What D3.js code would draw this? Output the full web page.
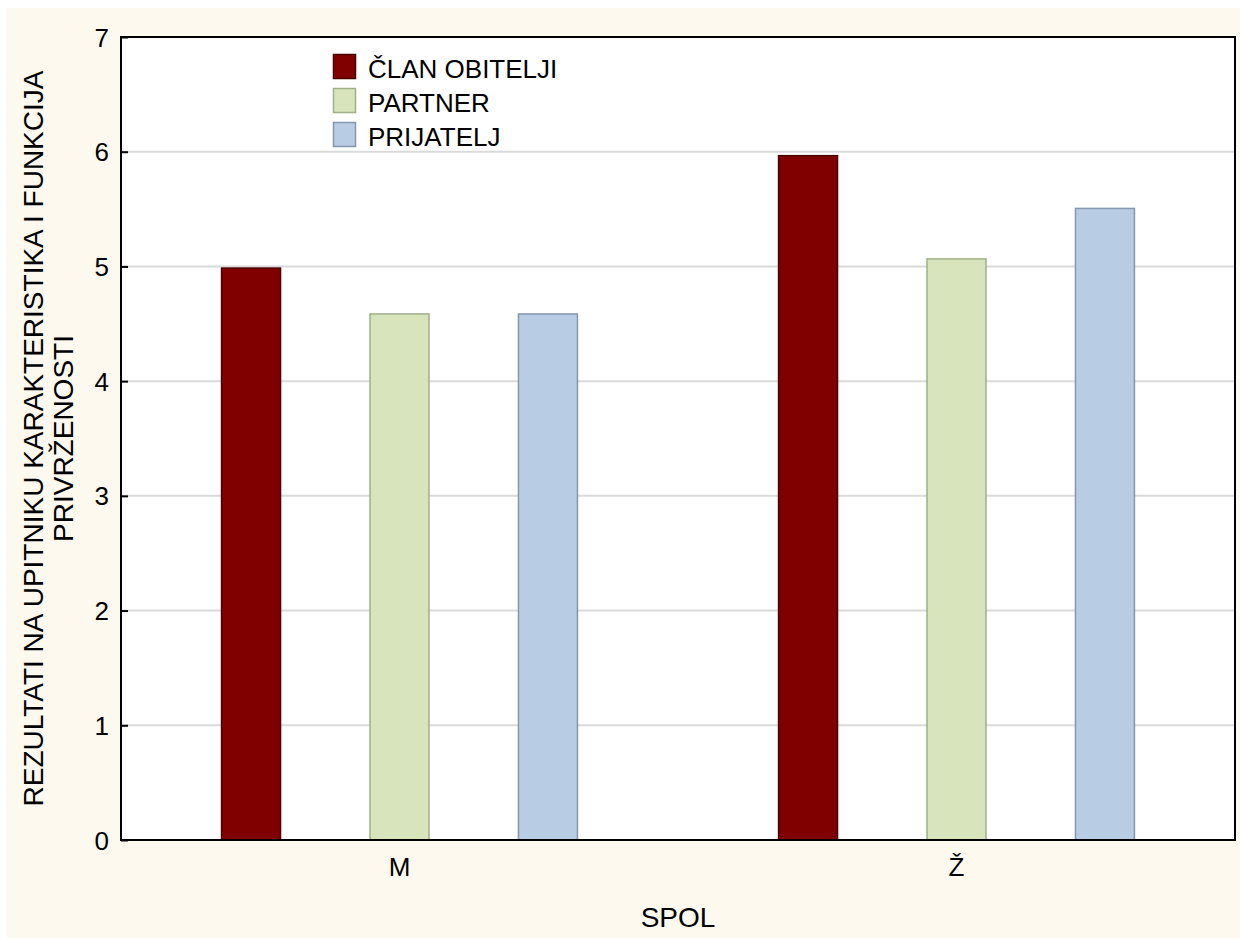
<!DOCTYPE html>
<html>
<head>
<meta charset="utf-8">
<script src="https://cdn.jsdelivr.net/npm/d3@7"></script>
<style>
  html, body { margin: 0; padding: 0; background: #fff; }
  svg { display: block; }
</style>
</head>
<body>
<div id="chart"></div>
<script>
  const groups = ['M', 'Ž'];
  const seriesNames = ['ČLAN OBITELJI', 'PARTNER', 'PRIJATELJ'];
  const clanValues = [4.99, 5.97];
  const partnerValues = [4.59, 5.07];
  const prijateljValues = [4.59, 5.51];
  const yTicks = [0, 1, 2, 3, 4, 5, 6, 7];

  const fills = ['#800000', '#d8e4bc', '#b8cce4'];
  const strokes = ['#4a0000', '#9fb086', '#8497b0'];

  const width = 1240;
  const height = 939;
  const margin = { top: 37, right: 5, bottom: 99, left: 121 };
  const font = '"Liberation Sans", Arial, sans-serif';

  const svg = d3.select('#chart')
    .append('svg')
    .attr('width', width)
    .attr('height', height);

  // cream page background
  svg.append('rect')
    .attr('x', 6)
    .attr('y', 8)
    .attr('width', width - 6)
    .attr('height', height - 9)
    .attr('fill', '#fdf9ef');

  const x0 = d3.scaleBand()
    .domain(groups)
    .range([margin.left, width - margin.right])
    .padding(0);

  const x1 = d3.scaleBand()
    .domain(seriesNames)
    .range([0, x0.bandwidth()])
    .paddingInner(0.596)
    .paddingOuter(0.674);

  const y = d3.scaleLinear()
    .domain([0, 7])
    .range([height - margin.bottom, margin.top]);

  const plotW = width - margin.right - margin.left;
  const plotH = height - margin.bottom - margin.top;

  svg.append('rect')
    .attr('x', margin.left)
    .attr('y', margin.top)
    .attr('width', plotW)
    .attr('height', plotH)
    .attr('fill', '#fff');

  // gridlines
  svg.append('g')
    .selectAll('line')
    .data(yTicks.filter(t => t > 0 && t < 7))
    .join('line')
    .attr('x1', margin.left)
    .attr('x2', width - margin.right)
    .attr('y1', d => y(d))
    .attr('y2', d => y(d))
    .attr('stroke', '#dadada')
    .attr('stroke-width', 2);

  const rows = groups.map((g, i) => ({
    group: g,
    values: [clanValues[i], partnerValues[i], prijateljValues[i]]
  }));

  const barG = svg.append('g');
  rows.forEach(row => {
    row.values.forEach((v, j) => {
      barG.append('rect')
        .attr('x', x0(row.group) + x1(seriesNames[j]) + 0.5)
        .attr('y', y(v) + 0.5)
        .attr('width', x1.bandwidth() - 1)
        .attr('height', y(0) - y(v) - 0.5)
        .attr('fill', fills[j])
        .attr('stroke', strokes[j])
        .attr('stroke-width', 1.5);
    });
  });

  // frame
  svg.append('rect')
    .attr('x', margin.left)
    .attr('y', margin.top)
    .attr('width', plotW)
    .attr('height', plotH)
    .attr('fill', 'none')
    .attr('stroke', '#000')
    .attr('stroke-width', 2);

  // y axis with inward ticks
  const yAxis = d3.axisLeft(y)
    .tickValues(yTicks)
    .tickFormat(d3.format('d'))
    .tickSize(-7);

  const yg = svg.append('g')
    .attr('transform', `translate(${margin.left},0)`)
    .call(yAxis);
  yg.select('.domain').remove();
  yg.selectAll('.tick line').attr('stroke', '#000').attr('stroke-width', 2);
  yg.selectAll('.tick text')
    .attr('x', -12)
    .attr('dy', '0.35em')
    .attr('font-family', font)
    .attr('font-size', 26)
    .attr('fill', '#000');

  const xAxis = d3.axisBottom(x0).tickSize(0);
  const xg = svg.append('g')
    .attr('transform', `translate(0,${height - margin.bottom})`)
    .call(xAxis);
  xg.select('.domain').remove();
  xg.selectAll('.tick text')
    .attr('y', 36)
    .attr('dy', null)
    .attr('font-family', font)
    .attr('font-size', 26)
    .attr('fill', '#000');

  // axis titles
  svg.append('text')
    .attr('x', margin.left + plotW / 2)
    .attr('y', 927)
    .attr('text-anchor', 'middle')
    .attr('font-family', font)
    .attr('font-size', 28)
    .text('SPOL');

  const yTitle = svg.append('text')
    .attr('transform', `translate(0,${margin.top + plotH / 2}) rotate(-90)`)
    .attr('text-anchor', 'middle')
    .attr('font-family', font)
    .attr('font-size', 28);
  yTitle.append('tspan').attr('x', 0).attr('y', 43)
    .text('REZULTATI NA UPITNIKU KARAKTERISTIKA I FUNKCIJA');
  yTitle.append('tspan').attr('x', 0).attr('y', 73)
    .text('PRIVRŽENOSTI');

  // legend
  const legend = svg.append('g').attr('transform', 'translate(333,54)');
  seriesNames.forEach((name, i) => {
    const g = legend.append('g').attr('transform', `translate(0,${i * 34})`);
    g.append('rect')
      .attr('x', 0.5)
      .attr('y', 0.5)
      .attr('width', 22)
      .attr('height', 24)
      .attr('fill', fills[i])
      .attr('stroke', strokes[i])
      .attr('stroke-width', 1.5);
    g.append('text')
      .attr('x', 35)
      .attr('y', 24)
      .attr('font-family', font)
      .attr('font-size', 26)
      .text(name);
  });
</script>
</body>
</html>
